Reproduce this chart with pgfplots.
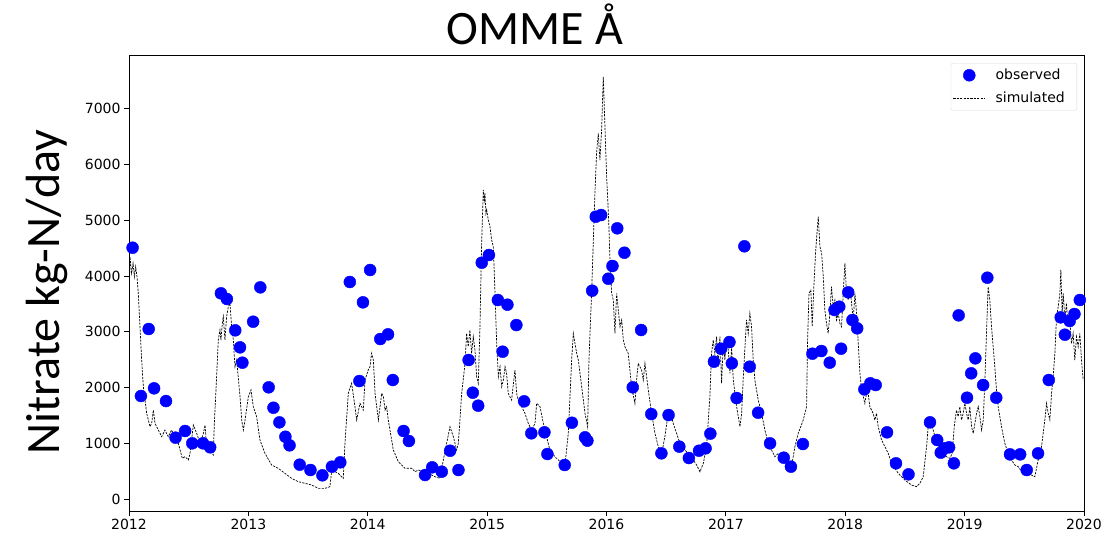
\documentclass[border=0pt]{standalone}
\usepackage{fontspec}
\setmainfont{DejaVu Sans}
\newfontfamily\carlito{Carlito}
\usepackage{pgfplots}
\pgfplotsset{compat=1.18}
\usepackage{pgfplotstable}

\pgfplotstableread{
x y
2012.03 4507
2012.10 1847
2012.165 3049
2012.21 1985
2012.31 1757
2012.39 1100
2012.47 1220
2012.53 999
2012.62 999
2012.68 927
2012.77 3689
2012.82 3587
2012.89 3025
2012.93 2720
2012.95 2445
2013.04 3180
2013.10 3796
2013.17 2003
2013.21 1637
2013.26 1375
2013.31 1117
2013.345 963
2013.43 616
2013.52 520
2013.62 425
2013.70 580
2013.77 658
2013.85 3892
2013.93 2116
2013.96 3527
2014.02 4107
2014.105 2869
2014.17 2953
2014.21 2134
2014.30 1220
2014.345 1040
2014.48 430
2014.54 568
2014.62 490
2014.69 866
2014.76 520
2014.845 2493
2014.88 1907
2014.925 1674
2014.955 4238
2015.015 4376
2015.09 3569
2015.13 2642
2015.17 3485
2015.245 3120
2015.31 1752
2015.37 1178
2015.48 1196
2015.505 807
2015.65 610
2015.71 1368
2015.82 1106
2015.84 1046
2015.88 3736
2015.91 5063
2015.955 5093
2016.015 3951
2016.05 4179
2016.09 4855
2016.15 4417
2016.22 2003
2016.29 3031
2016.375 1524
2016.46 819
2016.52 1506
2016.61 939
2016.69 735
2016.775 866
2016.83 909
2016.87 1172
2016.90 2463
2016.96 2696
2017.03 2815
2017.05 2433
2017.09 1811
2017.155 4532
2017.20 2373
2017.27 1548
2017.37 998
2017.485 741
2017.545 580
2017.645 986
2017.725 2606
2017.80 2654
2017.87 2445
2017.91 3390
2017.95 3449
2017.965 2696
2018.025 3707
2018.06 3210
2018.10 3061
2018.16 1967
2018.21 2075
2018.255 2044
2018.35 1196
2018.425 640
2018.53 443
2018.71 1375
2018.77 1058
2018.80 831
2018.83 909
2018.87 927
2018.91 640
2018.95 3294
2019.02 1817
2019.055 2254
2019.09 2523
2019.155 2044
2019.19 3969
2019.265 1817
2019.38 801
2019.465 801
2019.52 520
2019.615 819
2019.705 2134
2019.805 3258
2019.84 2947
2019.88 3192
2019.92 3318
2019.965 3569
}\observed

\pgfplotstableread{
x y
2012.000 3449
2012.008 4346
2012.022 4047
2012.034 4226
2012.045 3987
2012.056 4167
2012.067 3987
2012.078 3689
2012.092 3091
2012.106 2493
2012.120 2015
2012.148 1536
2012.176 1297
2012.190 1357
2012.204 1596
2012.218 1357
2012.246 1237
2012.274 1118
2012.301 1237
2012.329 1118
2012.357 1237
2012.385 1118
2012.413 998
2012.447 729
2012.469 759
2012.497 699
2012.511 819
2012.539 1327
2012.567 1178
2012.595 998
2012.623 1178
2012.637 1327
2012.650 938
2012.678 879
2012.706 789
2012.715 1357
2012.734 2194
2012.748 2851
2012.762 3031
2012.770 2851
2012.782 3150
2012.790 3270
2012.804 2851
2012.818 3270
2012.832 3449
2012.846 3509
2012.860 3091
2012.874 2851
2012.888 2373
2012.902 2493
2012.930 1835
2012.944 1417
2012.958 1237
2012.972 1417
2013.000 1835
2013.022 1955
2013.041 1656
2013.069 1477
2013.097 1058
2013.139 819
2013.195 610
2013.251 550
2013.306 460
2013.362 371
2013.418 311
2013.474 281
2013.530 251
2013.586 191
2013.642 191
2013.683 221
2013.697 490
2013.725 490
2013.753 460
2013.795 371
2013.809 998
2013.837 1895
2013.865 2074
2013.893 1656
2013.907 1417
2013.935 1716
2013.963 1596
2013.977 2134
2014.004 2313
2014.019 2373
2014.032 2613
2014.047 2493
2014.061 1895
2014.075 1656
2014.089 1417
2014.103 1656
2014.117 1895
2014.131 1835
2014.145 1596
2014.158 1656
2014.172 1417
2014.214 879
2014.256 670
2014.312 550
2014.368 550
2014.396 490
2014.424 520
2014.466 490
2014.507 460
2014.563 400
2014.605 371
2014.633 699
2014.661 998
2014.689 1297
2014.717 1118
2014.745 879
2014.759 998
2014.787 1895
2014.815 2433
2014.828 2971
2014.842 2732
2014.856 3031
2014.870 2613
2014.884 2911
2014.898 2672
2014.912 2194
2014.926 2074
2014.940 3091
2014.954 4585
2014.968 5542
2014.976 5362
2014.982 5482
2014.990 5123
2014.996 5183
2015.010 5004
2015.024 4884
2015.038 4645
2015.052 4525
2015.066 3689
2015.080 2792
2015.094 2194
2015.108 2373
2015.122 2015
2015.136 2134
2015.150 2373
2015.163 2254
2015.177 1895
2015.205 1776
2015.233 2313
2015.247 1895
2015.261 1776
2015.289 1656
2015.317 1536
2015.345 1357
2015.373 1237
2015.401 1357
2015.415 1716
2015.443 1656
2015.471 1357
2015.498 1118
2015.526 879
2015.568 759
2015.624 640
2015.652 610
2015.680 1178
2015.708 2493
2015.722 2971
2015.750 2613
2015.764 2493
2015.792 2015
2015.820 1536
2015.842 1297
2015.853 2493
2015.875 3689
2015.903 5482
2015.917 6199
2015.931 6558
2015.945 6080
2015.959 6618
2015.973 7574
2015.987 6677
2016.001 5781
2016.012 5300
2016.020 4900
2016.029 4286
2016.043 3689
2016.057 3569
2016.071 2971
2016.085 3689
2016.099 3390
2016.113 3091
2016.127 3210
2016.141 2851
2016.154 2732
2016.182 2613
2016.210 2015
2016.238 1716
2016.252 2134
2016.266 2433
2016.294 2313
2016.308 2134
2016.322 2433
2016.350 1955
2016.378 1536
2016.406 1178
2016.434 938
2016.462 819
2016.489 1118
2016.517 1536
2016.531 1596
2016.559 1357
2016.587 1178
2016.615 998
2016.657 879
2016.685 819
2016.727 699
2016.755 610
2016.783 490
2016.811 640
2016.838 938
2016.866 1835
2016.880 2613
2016.894 2851
2016.908 2613
2016.922 2911
2016.936 2373
2016.950 2911
2016.964 2074
2016.978 2792
2016.992 2493
2017.006 2911
2017.020 2672
2017.034 2254
2017.048 2732
2017.062 2134
2017.076 1895
2017.090 1656
2017.104 1477
2017.118 1297
2017.132 1536
2017.146 2194
2017.160 2732
2017.173 3210
2017.187 2971
2017.201 3330
2017.215 3091
2017.229 2493
2017.243 2134
2017.271 1776
2017.299 1536
2017.327 1237
2017.355 998
2017.383 879
2017.411 759
2017.439 819
2017.467 759
2017.508 699
2017.550 580
2017.578 938
2017.606 1178
2017.648 1417
2017.676 1656
2017.684 2792
2017.696 3689
2017.712 3748
2017.723 3091
2017.737 3808
2017.751 4406
2017.763 4765
2017.774 5063
2017.788 4525
2017.802 4406
2017.816 3987
2017.829 3390
2017.843 3150
2017.857 2971
2017.871 3330
2017.885 3808
2017.899 3449
2017.913 3569
2017.927 3210
2017.941 3330
2017.955 3150
2017.969 3091
2017.983 3689
2017.997 4226
2018.011 3689
2018.025 3569
2018.039 3808
2018.053 3509
2018.067 3210
2018.081 3689
2018.095 3330
2018.109 2792
2018.123 2254
2018.137 1955
2018.151 1835
2018.164 1716
2018.178 1895
2018.192 1895
2018.206 1656
2018.234 1536
2018.248 1417
2018.262 1536
2018.276 1297
2018.304 1058
2018.332 938
2018.360 819
2018.388 640
2018.444 460
2018.499 341
2018.555 251
2018.597 221
2018.625 281
2018.653 400
2018.681 938
2018.695 1297
2018.709 1357
2018.737 1237
2018.765 998
2018.793 938
2018.821 789
2018.848 759
2018.876 729
2018.896 819
2018.913 1297
2018.932 1596
2018.946 1477
2018.960 1656
2018.974 1417
2018.988 1536
2019.002 1716
2019.016 1536
2019.030 1417
2019.044 1656
2019.058 1297
2019.072 1178
2019.086 1357
2019.100 1536
2019.114 1656
2019.128 1477
2019.142 1237
2019.156 1417
2019.170 2134
2019.183 2971
2019.197 3808
2019.211 3569
2019.225 3091
2019.239 2732
2019.253 2373
2019.267 1955
2019.281 1656
2019.309 1297
2019.337 998
2019.365 819
2019.393 699
2019.421 610
2019.449 580
2019.477 490
2019.518 460
2019.560 430
2019.588 400
2019.616 699
2019.644 938
2019.672 1417
2019.686 1716
2019.700 1536
2019.714 1417
2019.728 1895
2019.742 2194
2019.756 2613
2019.770 3270
2019.784 3449
2019.798 3689
2019.806 4107
2019.817 3330
2019.826 3689
2019.840 3210
2019.853 3509
2019.867 3091
2019.881 3210
2019.895 2792
2019.909 2971
2019.923 2493
2019.937 2911
2019.951 2732
2019.965 2971
2019.979 2493
2019.993 2134
}\simulated

\begin{document}
\begin{tikzpicture}
\useasboundingbox (0,0) rectangle (1105pt,539pt);
\begin{axis}[
  at={(129pt,28pt)}, anchor=south west,
  scale only axis, width=955pt, height=456pt,
  xmin=2012, xmax=2020, ymin=-215, ymax=7963,
  xtick={2012,2013,...,2020}, ytick={0,1000,...,7000},
  tick align=outside, xtick pos=bottom, ytick pos=left,
  major tick length=5pt,
  tick style={line width=0.8pt, black},
  axis line style={line width=0.8pt},
  ticklabel style={font=\fontsize{14}{16}\selectfont},
  /pgf/number format/assume math mode=true,
  /pgf/number format/1000 sep={},
  title={OMME Å},
  title style={at={(0.425,1)}, anchor=base, yshift=5pt, font=\carlito\fontsize{48}{50}\selectfont},
  ylabel={Nitrate kg-N/day},
  ylabel style={at={(axis description cs:-0.086,0.48)}, anchor=center, font=\carlito\fontsize{48}{50}\selectfont},
  legend style={at={(1,1)}, anchor=north east, xshift=-7pt, yshift=-8pt,
    draw=black!15, rounded corners=2pt, font=\fontsize{14}{16}\selectfont,
    row sep=7pt, inner xsep=2pt, inner ysep=4pt},
  legend cell align=left,
]
\addplot[only marks, mark=*, mark size=6pt, color=blue, fill=blue,
  legend image code/.code={\fill[blue] (16pt,0pt) circle (6pt); \path (0pt,0pt) (40pt,0pt);}]
  table[x=x,y=y] {\observed};
\addlegendentry{observed\kern8pt}
\addplot[black, line width=0.7pt, dash pattern=on 2.2pt off 1.2pt,
  legend image code/.code={\draw[black, line width=0.7pt, dash pattern=on 2.2pt off 1.2pt] (0pt,0pt) -- (31pt,0pt); \path (40pt,0pt);}]
  table[x=x,y=y] {\simulated};
\addlegendentry{simulated\kern8pt}
\end{axis}
\end{tikzpicture}
\end{document}
